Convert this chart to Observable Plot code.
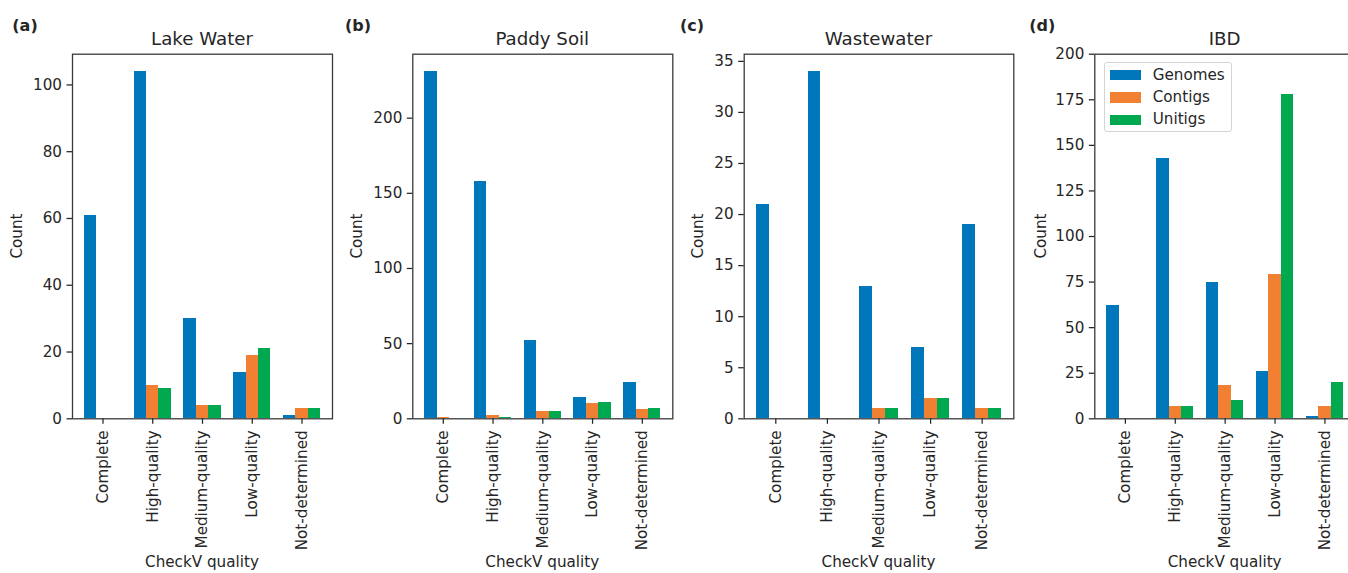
<!DOCTYPE html>
<html>
<head>
<meta charset="utf-8">
<script src="https://cdn.jsdelivr.net/npm/d3@7"></script>
<script src="https://cdn.jsdelivr.net/npm/@observablehq/plot@0.6"></script>
<style>
  html, body { margin: 0; padding: 0; background: #fff; }
  #fig { position: relative; width: 1348px; height: 573px; overflow: hidden;
         font-family: "DejaVu Sans", sans-serif; color: #262626; }
  #fig svg { position: absolute; top: 0; overflow: visible; }
  .txt { position: absolute; white-space: nowrap; line-height: 1; }
  .letter { font-weight: bold; font-size: 16px; }
  .title { font-size: 18.2px; transform: translateX(-50%); }
  .xlab { font-size: 15.2px; transform: translateX(-50%); }
  .ylab { font-size: 15.2px; transform: translate(-50%, -50%) rotate(-90deg); }
  .legend { position: absolute; border: 1px solid #d4d4d4; border-radius: 3px; background: rgba(255,255,255,0.85); box-sizing: border-box; }
  .legend .sw { position: absolute; width: 31px; height: 10.5px; }
  .legend .lt { position: absolute; font-size: 15.2px; line-height: 1; white-space: nowrap; }
</style>
</head>
<body>
<div id="fig"></div>
<script>
// ---------------- data ----------------
const categories = ["Complete", "High-quality", "Medium-quality", "Low-quality", "Not-determined"];
const series = ["Genomes", "Contigs", "Unitigs"];

const lakeGenomes = [61, 104, 30, 14, 1];
const lakeContigs = [0, 10, 4, 19, 3];
const lakeUnitigs = [0, 9, 4, 21, 3];

const paddyGenomes = [231, 158, 52, 14, 24];
const paddyContigs = [1, 2, 5, 10, 6];
const paddyUnitigs = [0, 1, 5, 11, 7];

const wasteGenomes = [21, 34, 13, 7, 19];
const wasteContigs = [0, 0, 1, 2, 1];
const wasteUnitigs = [0, 0, 1, 2, 1];

const ibdGenomes = [62, 143, 75, 26, 1];
const ibdContigs = [0, 7, 18, 79, 7];
const ibdUnitigs = [0, 7, 10, 178, 20];

const lakeTicks = [0, 20, 40, 60, 80, 100];
const paddyTicks = [0, 50, 100, 150, 200];
const wasteTicks = [0, 5, 10, 15, 20, 25, 30, 35];
const ibdTicks = [0, 25, 50, 75, 100, 125, 150, 175, 200];

const panelTitles = ["Lake Water", "Paddy Soil", "Wastewater", "IBD"];
const panelLetters = ["(a)", "(b)", "(c)", "(d)"];
const xLabel = "CheckV quality";
const yLabel = "Count";

// ---------------- styles / layout ----------------
const colors = ["#0077bb", "#f28032", "#00a84f"];
const barWidth = 0.25;
const fontSize = 15.2, titleSize = 18.2, letterSize = 16;
const H = 573, marginTop = 53.7, marginBottom = 154.7;
const layout = [
  {svgLeft: 0,    width: 340, frameLeft: 72,     frameRight: 332,    letterX: 12.3,   ylabX: 18.3,   ymaxFixed: null},
  {svgLeft: 340,  width: 340, frameLeft: 412.3,  frameRight: 672.3,  letterX: 345,    ylabX: 357.7,  ymaxFixed: null},
  {svgLeft: 680,  width: 340, frameLeft: 743.7,  frameRight: 1013.3, letterX: 680,    ylabX: 699.3,  ymaxFixed: null},
  {svgLeft: 1020, width: 345, frameLeft: 1094.3, frameRight: 1355,   letterX: 1029.3, ylabX: 1041.7, ymaxFixed: 200}
];

const panels = [
  {values: [lakeGenomes, lakeContigs, lakeUnitigs], ticks: lakeTicks},
  {values: [paddyGenomes, paddyContigs, paddyUnitigs], ticks: paddyTicks},
  {values: [wasteGenomes, wasteContigs, wasteUnitigs], ticks: wasteTicks},
  {values: [ibdGenomes, ibdContigs, ibdUnitigs], ticks: ibdTicks}
];

const fig = document.getElementById("fig");

function addText(cls, text, left, top) {
  const d = document.createElement("div");
  d.className = "txt " + cls;
  d.textContent = text;
  d.style.left = left + "px";
  d.style.top = top + "px";
  fig.appendChild(d);
  return d;
}

panels.forEach((p, k) => {
  const L = layout[k];
  const rows = [];
  p.values.forEach((vals, s) => vals.forEach((v, i) => rows.push({
    category: categories[i], series: series[s], value: v,
    pos: i + (s - (series.length - 1) / 2) * barWidth
  })));
  const lo = -barWidth * series.length / 2;
  const hi = categories.length - 1 + barWidth * series.length / 2;
  const m = (hi - lo) * 0.05;
  const ymax = L.ymaxFixed ?? d3.max(rows, d => d.value) * 1.05;

  const chart = Plot.plot({
    width: L.width, height: H,
    marginLeft: L.frameLeft - L.svgLeft,
    marginRight: L.svgLeft + L.width - L.frameRight,
    marginTop, marginBottom,
    x: {domain: [lo - m, hi + m]},
    y: {domain: [0, ymax]},
    color: {domain: series, range: colors},
    style: {fontFamily: "DejaVu Sans, sans-serif", fontSize: fontSize + "px", color: "#262626", background: "transparent", overflow: "visible"},
    marks: [
      Plot.rect(rows, {
        x1: d => d.pos - barWidth / 2, x2: d => d.pos + barWidth / 2,
        y1: 0, y2: "value", fill: "series", shapeRendering: "crispEdges"
      }),
      Plot.frame({stroke: "#3a3a3a", strokeWidth: 1.3}),
      Plot.axisY({ticks: p.ticks, tickSize: 5.5, tickPadding: 5, strokeWidth: 1.25, fontSize: fontSize, label: null}),
      Plot.axisX({ticks: d3.range(categories.length), tickFormat: i => categories[i],
                  tickRotate: -90, tickSize: 5.5, tickPadding: 6, strokeWidth: 1.25, fontSize: fontSize, label: null})
    ]
  });
  chart.style.left = L.svgLeft + "px";
  fig.appendChild(chart);

  const cx = (L.frameLeft + L.frameRight) / 2;
  addText("letter", panelLetters[k], L.letterX, 31.4 - 0.846 * letterSize);
  addText("title", panelTitles[k], cx, 45 - 0.846 * titleSize);
  addText("xlab", xLabel, cx, 567.5 - 0.846 * fontSize);
  addText("ylab", yLabel, L.ylabX, (marginTop + H - marginBottom) / 2);
});

// legend (panel d)
const lg = document.createElement("div");
lg.className = "legend";
Object.assign(lg.style, {left: "1104px", top: "61.7px", width: "128px", height: "70px"});
series.forEach((s, i) => {
  const cy = 12.5 + i * 22.3;
  const sw = document.createElement("div");
  sw.className = "sw";
  Object.assign(sw.style, {left: "5px", top: (cy - 5.25) + "px", background: colors[i]});
  const t = document.createElement("div");
  t.className = "lt";
  t.textContent = s;
  Object.assign(t.style, {left: "47.7px", top: (cy - 0.5 * fontSize) + "px"});
  lg.appendChild(sw);
  lg.appendChild(t);
});
fig.appendChild(lg);
</script>
</body>
</html>
